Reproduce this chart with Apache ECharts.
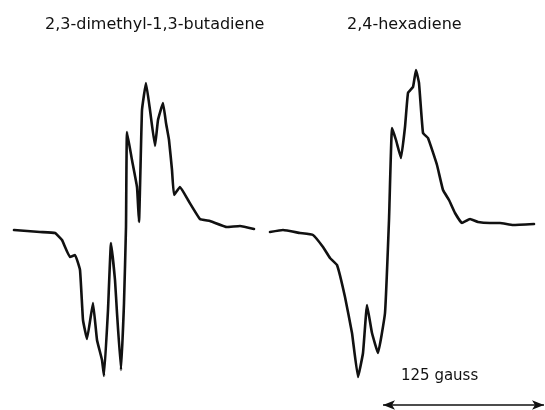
<!DOCTYPE html>
<html>
<head>
<meta charset="utf-8">
<script src="https://cdn.jsdelivr.net/npm/echarts@6/dist/echarts.min.js"></script>
<style>
  html, body { margin: 0; padding: 0; background: #fff; }
  #chart { width: 545px; height: 410px; }
</style>
</head>
<body>
<div id="chart"></div>
<script>
// field position (arbitrary, ~0.78 gauss per unit) and derivative signal (baseline 0)
const dmbField = [14, 40, 55, 62, 70, 75, 80, 83, 87, 93, 97, 102, 104, 108, 111, 115, 117, 121, 124, 126, 127, 132, 137, 139, 142, 146, 150, 155, 158, 163, 166, 169, 172, 174, 180, 188, 200, 210, 227, 240, 254];
const dmbSignal = [0, -2, -3, -10, -27, -25, -40, -90, -109, -73, -110, -130, -146, -80, -13, -50, -83, -140, -73, 3, 98, 70, 43, 8, 120, 147, 120, 84, 110, 127, 107, 90, 60, 35, 43, 30, 11, 9, 3, 4, 1];

const hexField = [270, 283, 300, 313, 323, 330, 337, 345, 352, 358, 363, 367, 372, 378, 385, 389, 392, 396, 401, 405, 408, 413, 416, 419, 423, 428, 437, 443, 449, 455, 462, 470, 478, 490, 500, 513, 534];
const hexSignal = [-2, 0, -3, -5, -17, -28, -35, -67, -103, -147, -123, -75, -103, -123, -83, 10, 102, 90, 72, 103, 137, 143, 160, 147, 97, 92, 65, 40, 30, 17, 7, 11, 8, 7, 7, 5, 6];

const titles = ['2,3-dimethyl-1,3-butadiene', '2,4-hexadiene'];
const scaleLabel = '125 gauss';
const scaleBar = [383, 544];

const pair = (xs, ys) => xs.map((x, i) => [x, ys[i]]);

const chart = echarts.init(document.getElementById('chart'));

const lineStyle = { color: '#111', width: 2.6, join: 'round', cap: 'round' };
const titleStyle = {
  fontFamily: 'DejaVu Sans',
  fontSize: 16,
  fontWeight: 'normal',
  color: '#111',
};

chart.setOption({
  animation: false,
  backgroundColor: '#fff',
  title: [
    { text: titles[0], left: 40, top: 12, textStyle: titleStyle },
    { text: titles[1], left: 342, top: 12, textStyle: titleStyle },
    { text: scaleLabel, left: 396, top: 364, textStyle: { ...titleStyle, fontSize: 15 } },
  ],
  grid: { left: 0, right: 0, top: 0, bottom: 0 },
  xAxis: { type: 'value', min: 0, max: 545, show: false },
  yAxis: { type: 'value', min: -180, max: 230, show: false },
  series: [
    {
      name: titles[0],
      type: 'line',
      data: pair(dmbField, dmbSignal),
      showSymbol: false,
      smooth: 0.1,
      lineStyle,
    },
    {
      name: titles[1],
      type: 'line',
      data: pair(hexField, hexSignal),
      showSymbol: false,
      smooth: 0.1,
      lineStyle,
    },
    {
      name: scaleLabel,
      type: 'line',
      data: [],
      markLine: {
        silent: true,
        symbol: ['arrow', 'arrow'],
        symbolSize: [7, 12],
        label: { show: false },
        lineStyle: { color: '#111', width: 1.6, type: 'solid' },
        data: [[
          { coord: [scaleBar[0], -175] },
          { coord: [scaleBar[1], -175] },
        ]],
      },
    },
  ],
});
</script>
</body>
</html>
